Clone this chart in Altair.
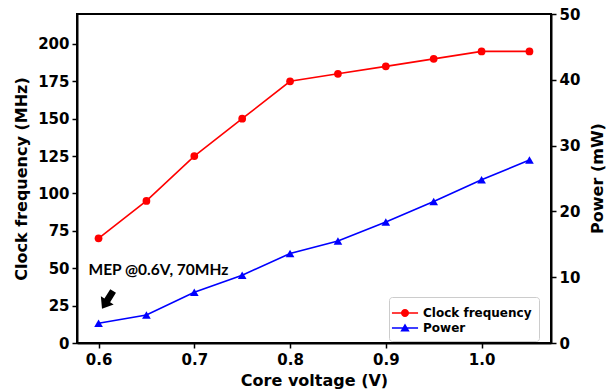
import altair as alt
import pandas as pd

voltages = [0.6, 0.65, 0.7, 0.75, 0.8, 0.85, 0.9, 0.95, 1.0, 1.05]
clock_freq = [70, 95, 125, 150, 175, 180, 185, 190, 195, 195]
power_mw = [3.0, 4.25, 7.7, 10.3, 13.6, 15.5, 18.4, 21.5, 24.8, 27.8]
series_names = ["Clock frequency", "Power"]
series_colors = ["#ff0000", "#0000ff"]
annotation_text = "MEP @0.6V, 70MHz"

df_f = pd.DataFrame({"voltage": voltages, "value": clock_freq, "series": series_names[0]})
df_p = pd.DataFrame({"voltage": voltages, "value": power_mw, "series": series_names[1]})

FONT = "DejaVu Sans"

xenc = alt.X(
    "voltage:Q",
    scale=alt.Scale(domain=[0.5775, 1.0725], nice=False, zero=False),
    axis=alt.Axis(values=[0.6, 0.7, 0.8, 0.9, 1.0], format=".1f", title="Core voltage (V)",
                  labelPadding=4, titleY=42, titleBaseline="alphabetic"),
)

yf = alt.Y(
    "value:Q",
    scale=alt.Scale(domain=[0, 220], nice=False),
    axis=alt.Axis(values=list(range(0, 201, 25)), title="Clock frequency (MHz)", titlePadding=8),
)
yp = alt.Y(
    "value:Q",
    scale=alt.Scale(domain=[0, 50], nice=False),
    axis=alt.Axis(orient="right", values=[0, 10, 20, 30, 40, 50], title="Power (mW)",
                  titleAngle=270, titleX=46, titleY=164, titleAlign="center", titleBaseline="middle"),
)

base_f = alt.Chart(df_f).encode(x=xenc, y=yf)
base_p = alt.Chart(df_p).encode(x=xenc, y=yp)

freq_line = base_f.mark_line(color=series_colors[0], strokeWidth=1.6)
freq_pts = base_f.mark_point(shape="circle", filled=True, size=60, color=series_colors[0], opacity=1)

sym_circle = "M-1.45,-0.09H1.45V0.09H-1.45Z M0.45,0A0.45,0.45 0 1,1 -0.45,0A0.45,0.45 0 1,1 0.45,0Z"
sym_tri = "M-1.45,-0.09H1.45V0.09H-1.45Z M0,-0.5L0.52,0.4L-0.52,0.4Z"

leg = alt.Legend(
    title=None,
    orient="none",
    legendX=312,
    legendY=283,
    symbolSize=324,
    symbolOpacity=1,
    symbolStrokeWidth=0,
    labelFont=FONT,
    labelFontWeight="bold",
    labelFontSize=12,
    labelColor="black",
    labelOffset=9,
    rowPadding=0,
    padding=7,
    strokeColor="#cccccc",
    fillColor="white",
    cornerRadius=3,
)

legend_layer = base_f.mark_point(filled=True).encode(
    opacity=alt.value(0),
    color=alt.Color("series:N", scale=alt.Scale(domain=series_names, range=series_colors), legend=leg),
    shape=alt.Shape("series:N", scale=alt.Scale(domain=series_names, range=[sym_circle, sym_tri]), legend=leg),
)

ann_text = alt.Chart(pd.DataFrame({"t": [annotation_text]})).mark_text(
    align="left", baseline="middle", font="Lato", fontWeight="bold", fontSize=15.5, color="black", dx=-10
).encode(x=alt.datum(0.6), y=alt.datum(49), text="t:N")

arrow_path = "M-0.32,-1H0.32V0.05H0.72L0,1L-0.72,0.05H-0.32Z"
ann_arrow = alt.Chart(pd.DataFrame({"a": [1]})).mark_point(
    shape=arrow_path, filled=True, color="black", opacity=1, size=440, angle=32
).encode(x=alt.datum(0.6094), y=alt.datum(28.8))

power_line = base_p.mark_line(color=series_colors[1], strokeWidth=1.6)
power_pts = base_p.mark_point(shape="triangle-up", filled=True, size=75, color=series_colors[1], opacity=1)

left = alt.layer(freq_line, freq_pts, legend_layer, ann_text, ann_arrow)
right = alt.layer(power_line, power_pts)

chart = (
    alt.layer(left, right)
    .resolve_scale(y="independent")
    .properties(
        width=474,
        height=329,
        autosize=alt.AutoSizeParams(type="none"),
        padding={"left": 69, "top": 6, "right": 55, "bottom": 47},
    )
    .configure_view(stroke="black", strokeWidth=2)
    .configure_axis(
        grid=False,
        domainColor="black",
        domainWidth=2,
        tickColor="black",
        tickWidth=1.5,
        tickSize=5,
        labelFont=FONT,
        labelFontWeight="bold",
        labelFontSize=15,
        labelColor="black",
        labelPadding=3,
        titleFont=FONT,
        titleFontWeight="bold",
        titleFontSize=16,
        titleColor="black",
    )
)

chart.save("out.html", embed_options={"renderer": "svg", "actions": False})
